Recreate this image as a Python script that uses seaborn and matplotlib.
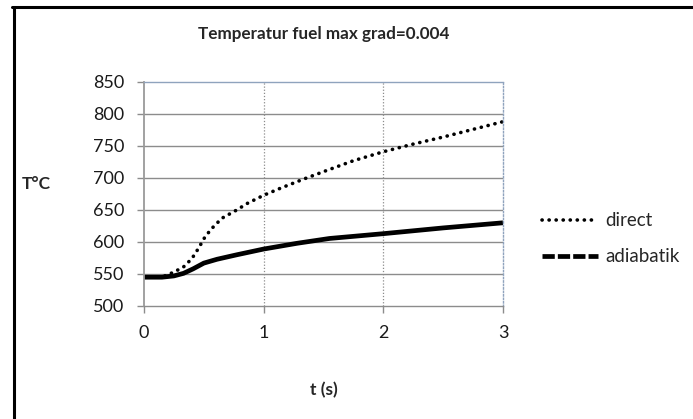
import matplotlib
matplotlib.use("Agg")
import matplotlib.pyplot as plt
from matplotlib.lines import Line2D
import seaborn as sns
import pandas as pd

# ---- data ----
t_direct = [0, 0.15, 0.25, 0.33, 0.40, 0.455, 0.51, 0.566, 0.65, 0.775, 0.86,
            1.0, 1.14, 1.33, 1.53, 1.75, 2.0, 2.25, 2.5, 2.75, 3.0]
temp_direct = [545, 545, 553, 561, 574, 590, 608, 621, 637, 650, 660,
               673, 684, 698, 712, 727, 741, 753, 764, 776, 788]

t_adiab = [0, 0.15, 0.25, 0.33, 0.41, 0.5, 0.61, 0.775, 1.0, 1.28, 1.55,
           2.0, 2.5, 3.0]
temp_adiab = [545, 545, 547, 551, 558, 567, 573, 580, 589, 598, 605.5,
              613, 622, 630]

series_names = ["direct", "adiabatik"]
title = "Temperatur fuel max grad=0.004"
x_ticks = [0, 1, 2, 3]
y_ticks = [500, 550, 600, 650, 700, 750, 800, 850]

df = pd.concat([
    pd.DataFrame({"t": t_direct, "T": temp_direct, "series": series_names[0]}),
    pd.DataFrame({"t": t_adiab, "T": temp_adiab, "series": series_names[1]}),
])

sns.set_theme(style="white")
plt.rcParams["font.family"] = ["Lato", "DejaVu Sans"]

fig = plt.figure(figsize=(6.93, 4.19), dpi=100)
ax = fig.add_axes([0.2078, 0.2697, 0.7258 - 0.2078, 0.8043 - 0.2697])

sns.lineplot(data=df, x="t", y="T", hue="series", style="series",
             palette={"direct": "black", "adiabatik": "black"},
             dashes={"direct": (0.05, 1.9), "adiabatik": ""},
             sort=True, ax=ax, legend=False)
lines = ax.get_lines()
lines[0].set_linewidth(2.6)
lines[0].set_dash_capstyle("round")
lines[1].set_linewidth(3.4)
lines[1].set_solid_capstyle("butt")

ax.set_xlim(0, 3)
ax.set_ylim(500, 850)
ax.set_xticks(x_ticks)
ax.set_yticks(y_ticks)

# grid
for y in y_ticks[1:-1]:
    ax.axhline(y, color="#8c8c8c", lw=1.0, zorder=0)
for x in x_ticks[1:-1]:
    ax.axvline(x, color="#8c8c8c", lw=0.9, ls=(0, (1, 1.5)), zorder=0)

for s in ax.spines.values():
    s.set_visible(True)
ax.spines["left"].set_color("#9a9a9a")
ax.spines["left"].set_linewidth(1.3)
ax.spines["bottom"].set_color("#8c8c8c")
ax.spines["bottom"].set_linewidth(1.0)
ax.spines["top"].set_color("#8fa3bd")
ax.spines["top"].set_linewidth(1.0)
ax.spines["right"].set_color("#8fa3bd")
ax.spines["right"].set_linestyle((0, (1, 1.5)))
ax.spines["right"].set_linewidth(1.0)

ax.tick_params(axis="y", which="major", direction="out", length=5, width=1,
               color="#8c8c8c", pad=9, labelsize=13, labelcolor="#1a1a1a",
               left=True)
ax.tick_params(axis="x", which="major", direction="out", length=5, width=1,
               color="#8c8c8c", pad=9, labelsize=13, labelcolor="#1a1a1a",
               bottom=True)

ax.set_xlabel("t (s)", fontsize=12.5, fontweight="bold", labelpad=29)
ax.set_ylabel("T°C", fontsize=12.5, fontweight="bold", rotation=0,
              va="center")
ax.yaxis.set_label_coords(-0.30, 0.545)
ax.set_title(title, fontsize=12.3, fontweight="bold", pad=31)

# legend (Excel-style, outside plot)
handles = [
    Line2D([], [], color="black", lw=2.6, ls=(0, (0.05, 1.9)), dash_capstyle="round"),
    Line2D([], [], color="black", lw=3.4, ls=(0, (2.6, 0.65))),
]
leg = fig.legend(handles, series_names, loc="center left",
                 bbox_to_anchor=(0.758, 0.43), frameon=False,
                 fontsize=13.5, handlelength=3.0, handletextpad=0.35,
                 labelspacing=1.0)

# outer chart frame (only left and top edges are visible)
fig.add_artist(Line2D([0.0195, 0.0195], [0, 0.984], transform=fig.transFigure,
                      color="black", lw=2.2))
fig.add_artist(Line2D([0.0180, 1.0], [0.984, 0.984], transform=fig.transFigure,
                      color="black", lw=2.2))

fig.savefig("out.png", dpi=100)
